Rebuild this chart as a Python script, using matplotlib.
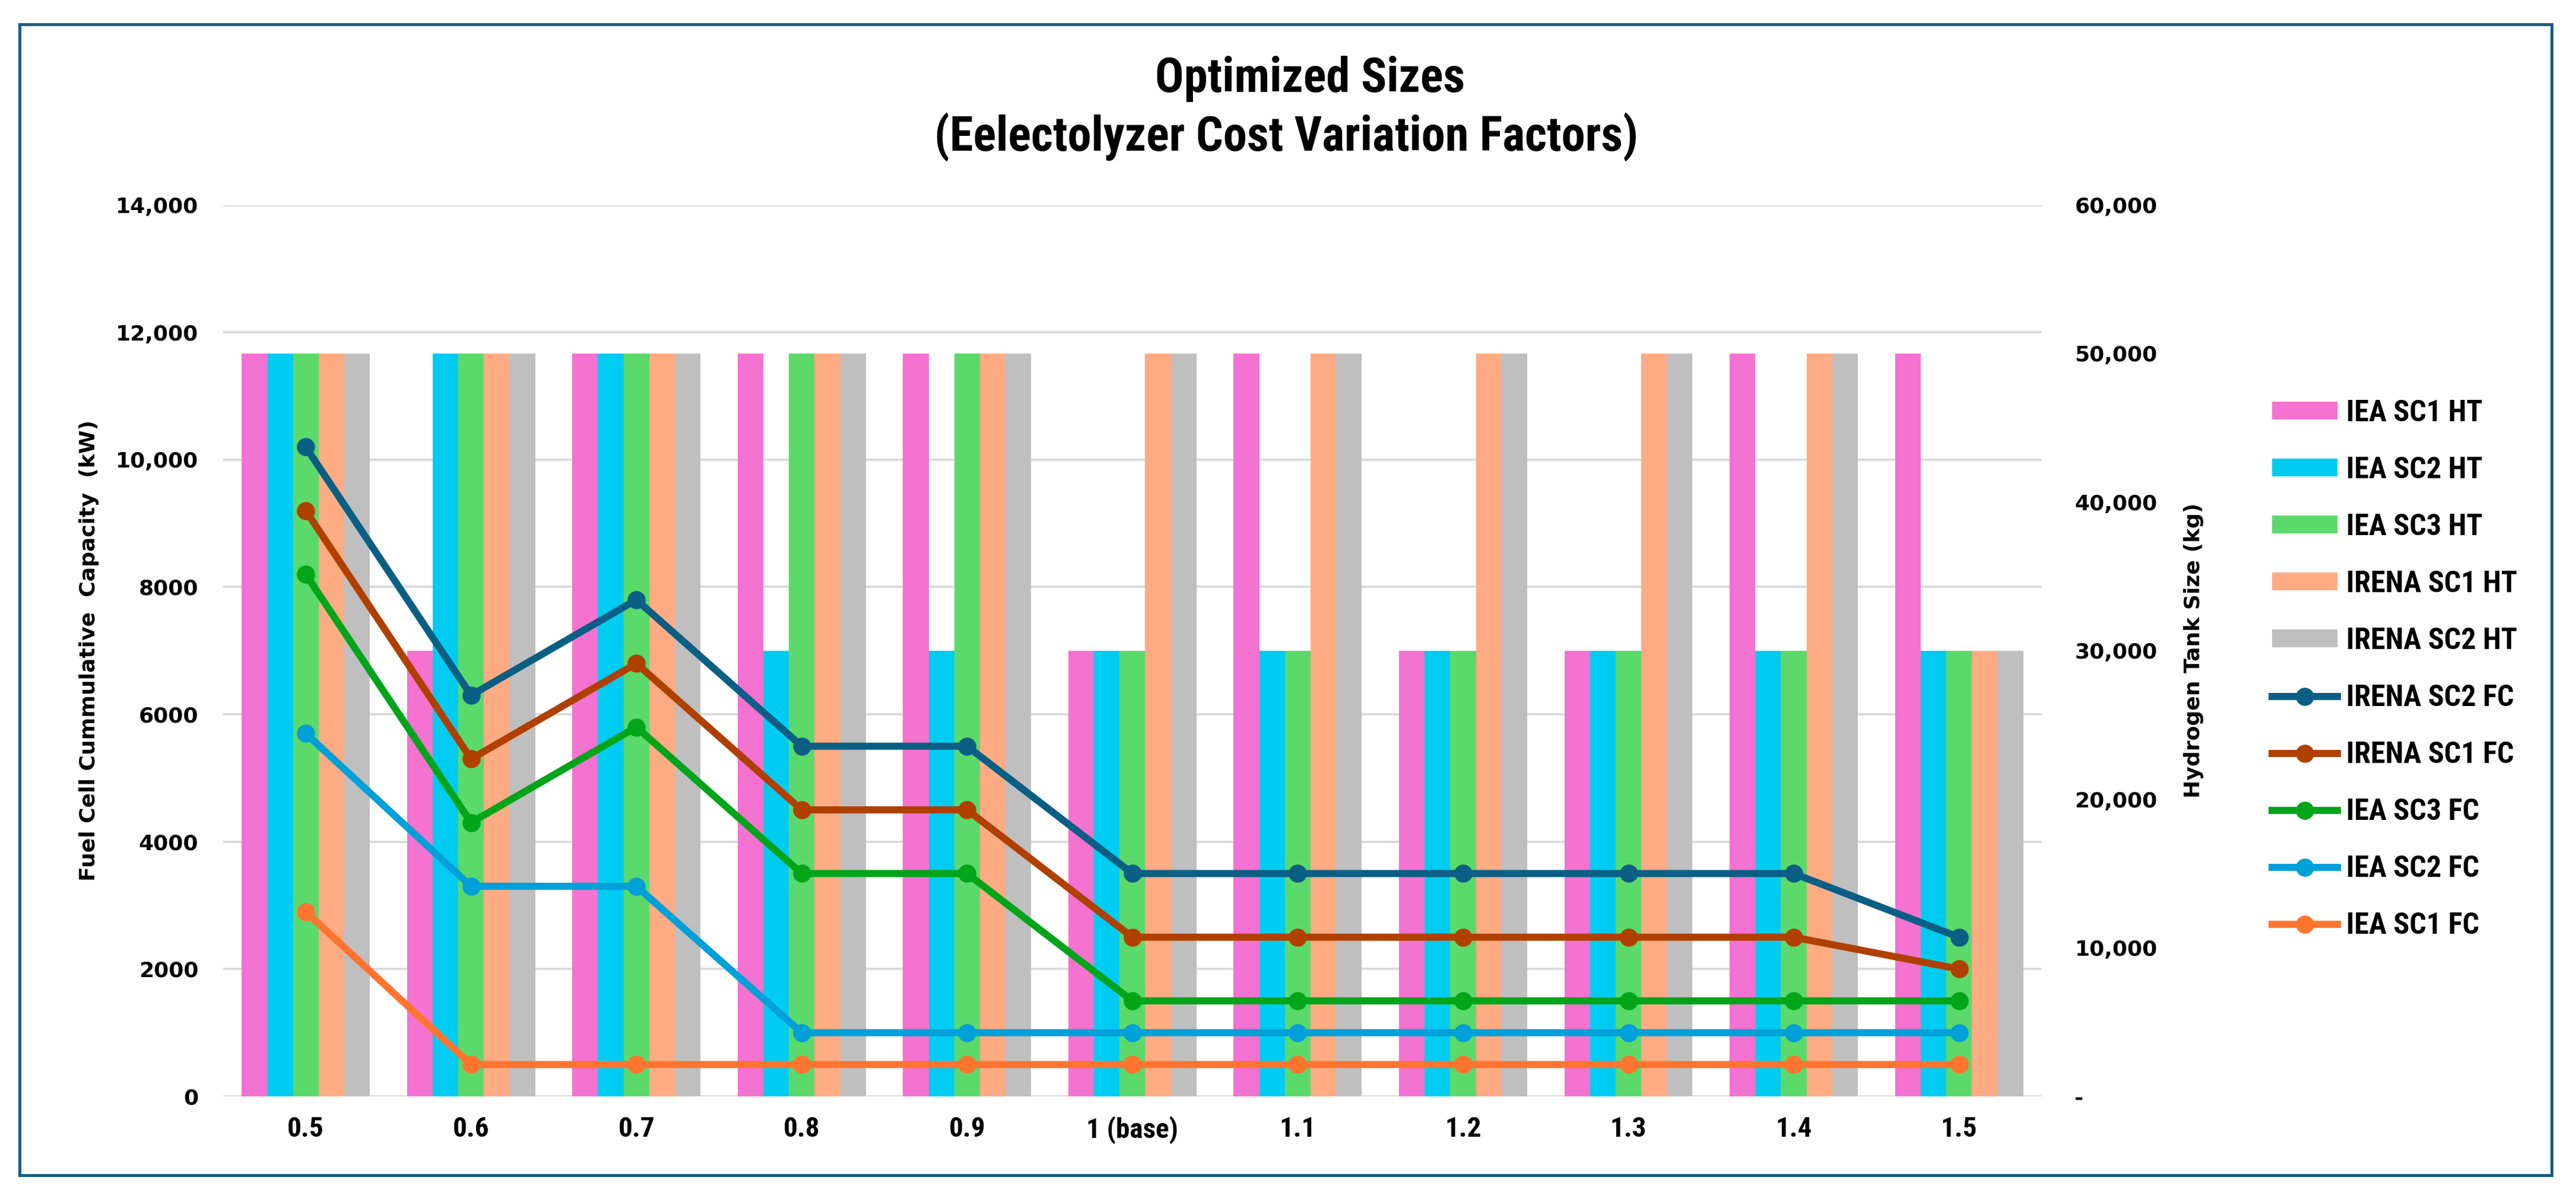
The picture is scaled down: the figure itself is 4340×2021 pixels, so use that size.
import numpy as np
import matplotlib
matplotlib.use("Agg")
import matplotlib.pyplot as plt
from matplotlib.ticker import FixedLocator, FuncFormatter
from matplotlib.patches import Rectangle
from matplotlib import font_manager

factors = ['0.5', '0.6', '0.7', '0.8', '0.9', '1 (base)', '1.1', '1.2', '1.3', '1.4', '1.5']

# hydrogen tank sizes (kg), right axis
iea_sc1_ht = [50000, 30000, 50000, 50000, 50000, 30000, 50000, 30000, 30000, 50000, 50000]
iea_sc2_ht = [50000, 50000, 50000, 30000, 30000, 30000, 30000, 30000, 30000, 30000, 30000]
iea_sc3_ht = [50000, 50000, 50000, 50000, 50000, 30000, 30000, 30000, 30000, 30000, 30000]
irena_sc1_ht = [50000, 50000, 50000, 50000, 50000, 50000, 50000, 50000, 50000, 50000, 30000]
irena_sc2_ht = [50000, 50000, 50000, 50000, 50000, 50000, 50000, 50000, 50000, 50000, 30000]

# fuel cell capacity (kW), left axis
irena_sc2_fc = [10200, 6300, 7800, 5500, 5500, 3500, 3500, 3500, 3500, 3500, 2500]
irena_sc1_fc = [9200, 5300, 6800, 4500, 4500, 2500, 2500, 2500, 2500, 2500, 2000]
iea_sc3_fc = [8200, 4300, 5800, 3500, 3500, 1500, 1500, 1500, 1500, 1500, 1500]
iea_sc2_fc = [5700, 3300, 3300, 1000, 1000, 1000, 1000, 1000, 1000, 1000, 1000]
iea_sc1_fc = [2900, 500, 500, 500, 500, 500, 500, 500, 500, 500, 500]

bar_series = [
    ('IEA SC1 HT', iea_sc1_ht, '#F472D0'),
    ('IEA SC2 HT', iea_sc2_ht, '#00CCF2'),
    ('IEA SC3 HT', iea_sc3_ht, '#5CD96B'),
    ('IRENA SC1 HT', irena_sc1_ht, '#FFAB83'),
    ('IRENA SC2 HT', irena_sc2_ht, '#BFBFBF'),
]
line_series = [
    ('IRENA SC2 FC', irena_sc2_fc, '#0B5F84'),
    ('IRENA SC1 FC', irena_sc1_fc, '#B04000'),
    ('IEA SC3 FC', iea_sc3_fc, '#00A51A'),
    ('IEA SC2 FC', iea_sc2_fc, '#00A0D8'),
    ('IEA SC1 FC', iea_sc1_fc, '#FF7530'),
]

# narrow bold font for title / x labels / legend, if one is installed
names = {f.name for f in font_manager.fontManager.ttflist}
narrow_fp = None
for cand in ['Liberation Sans Narrow', 'Roboto Condensed', 'Open Sans Condensed']:
    if cand in names:
        narrow_fp = dict(family=cand, stretch='normal')
        break
if narrow_fp is None:
    narrow_fp = dict(family='DejaVu Sans', stretch='condensed')

fig = plt.figure(figsize=(21.7, 10.105), dpi=200)
ax_ht = fig.add_axes([0.0866, 0.0856, 0.706, 0.7434])
ax_fc = ax_ht.twinx()

x = np.arange(len(factors))
w = 0.155
for i, (name, vals, col) in enumerate(bar_series):
    ax_ht.bar(x + (i - 2) * w, vals, w, color=col, label=name, zorder=2)

ax_ht.set_xlim(-0.5, len(factors) - 0.5)
ax_ht.set_ylim(0, 60000)
ax_ht.yaxis.tick_right()
ax_ht.yaxis.set_label_position('right')
ax_ht.yaxis.set_major_locator(FixedLocator(np.arange(0, 60001, 10000)))
ax_ht.yaxis.set_major_formatter(FuncFormatter(lambda v, p: '-' if v == 0 else f'{v:,.0f}'))
# gridlines follow the left axis steps (2000 kW)
ax_ht.yaxis.remove_overlapping_locs = False
ax_ht.yaxis.set_minor_locator(FixedLocator(np.arange(0, 14001, 2000) * 60000 / 14000))
ax_ht.grid(which='minor', axis='y', color='#D9D9D9', lw=1.3, zorder=0)
ax_ht.set_axisbelow(True)
ax_ht.tick_params(axis='y', which='both', length=0, pad=20, labelsize=13)
ax_ht.tick_params(axis='x', length=0, pad=12)
ax_ht.set_xticks(x)
ax_ht.set_xticklabels(factors, fontweight='bold', fontsize=17, **narrow_fp)
for lab in ax_ht.get_yticklabels():
    lab.set_fontweight('bold')
ax_ht.set_ylabel('Hydrogen Tank Size (kg)', fontsize=13, fontweight='bold', labelpad=16)
for s in ax_ht.spines.values():
    s.set_visible(False)

for name, vals, col in line_series:
    ax_fc.plot(x, vals, color=col, lw=4.3, marker='o', ms=10, label=name, zorder=3)
ax_fc.set_ylim(0, 14000)
ax_fc.yaxis.tick_left()
ax_fc.yaxis.set_label_position('left')
ax_fc.yaxis.set_major_locator(FixedLocator(np.arange(0, 14001, 2000)))
ax_fc.yaxis.set_major_formatter(FuncFormatter(lambda v, p: f'{v:,.0f}' if v >= 10000 else f'{v:.0f}'))
ax_fc.tick_params(axis='y', length=0, pad=15, labelsize=13)
for lab in ax_fc.get_yticklabels():
    lab.set_fontweight('bold')
ax_fc.set_ylabel('Fuel Cell Cummulative  Capacity  (kW)', fontsize=13, fontweight='bold', labelpad=10)
for s in ax_fc.spines.values():
    s.set_visible(False)

h1, l1 = ax_ht.get_legend_handles_labels()
h2, l2 = ax_fc.get_legend_handles_labels()
leg_prop = dict(weight='bold', size=18, **narrow_fp)
fig.legend(h1 + h2, l1 + l2, loc='upper left', bbox_to_anchor=(0.882, 0.667),
           frameon=False, prop=leg_prop,
           handlelength=2.2, handleheight=0.55, handletextpad=0.3,
           labelspacing=0.98, borderpad=0, borderaxespad=0)

fig.text(0.5086, 0.934, 'Optimized Sizes', ha='center', va='center',
         fontweight='bold', fontsize=29, **narrow_fp)
fig.text(0.4994, 0.886, '(Eelectolyzer Cost Variation Factors)', ha='center', va='center',
         fontweight='bold', fontsize=29, **narrow_fp)

fig.patches.append(Rectangle((0.0077, 0.0198), 0.9829, 0.9599, transform=fig.transFigure,
                             fill=False, edgecolor='#1B5E80', lw=1.8))

fig.savefig('out.png', dpi=200)
